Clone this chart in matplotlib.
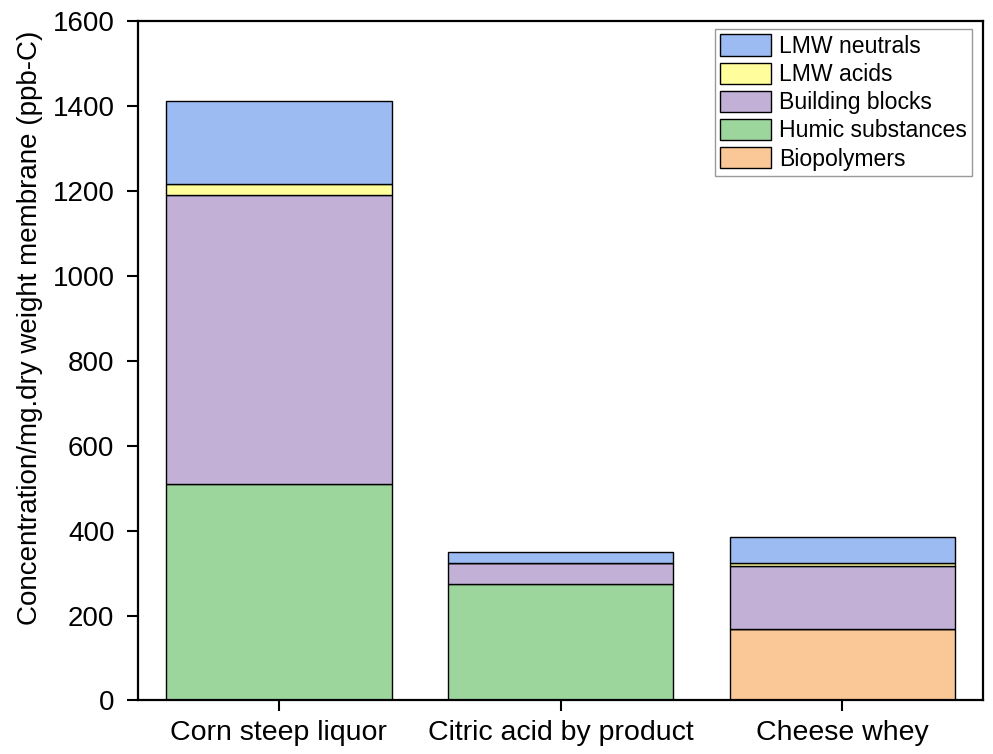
import matplotlib
matplotlib.use("Agg")
import matplotlib.pyplot as plt
import numpy as np

categories = ["Corn steep liquor", "Citric acid by product", "Cheese whey"]
biopolymers = [0, 0, 169]
humic = [509, 274, 0]
building_blocks = [682, 50, 147]
lmw_acids = [26, 0, 8]
lmw_neutrals = [195, 25, 62]

series = [
    ("Biopolymers", biopolymers, "#fac896"),
    ("Humic substances", humic, "#9dd69d"),
    ("Building blocks", building_blocks, "#c2b0d6"),
    ("LMW acids", lmw_acids, "#fffd9c"),
    ("LMW neutrals", lmw_neutrals, "#9bbbf2"),
]

plt.rcParams['font.family'] = ['Liberation Sans', 'DejaVu Sans']
fig = plt.figure(figsize=(9.93, 7.54), dpi=100)
ax = fig.add_axes([0.139, 0.071, 0.851, 0.901])

x = np.arange(len(categories))
bottom = np.zeros(len(categories))
handles = {}
for name, vals, col in series:
    vals = np.array(vals, dtype=float)
    b = ax.bar(x, vals, width=0.8, bottom=bottom, color=col, edgecolor="black", linewidth=1.0, label=name)
    handles[name] = b
    bottom += vals

ax.set_xlim(-0.5, 2.5)
ax.set_ylim(0, 1600)
ax.set_yticks(np.arange(0, 1601, 200))
ax.set_xticks(x)
ax.set_xticklabels(categories)
ax.tick_params(axis='both', direction='out', length=8, width=1.5)
ax.tick_params(axis='y', labelsize=20, pad=9)
ax.tick_params(axis='x', labelsize=20.5, pad=6)
for s in ax.spines.values():
    s.set_linewidth(1.6)
ax.set_ylabel("Concentration/mg.dry weight membrane (ppb-C)", fontsize=20)
ax.yaxis.set_label_coords(-0.112, 0.549)

order = ["LMW neutrals", "LMW acids", "Building blocks", "Humic substances", "Biopolymers"]
leg = ax.legend([handles[n] for n in order], order, loc="upper right", bbox_to_anchor=(0.987, 0.988),
                fontsize=16.6, frameon=True, fancybox=False, edgecolor="#808080",
                handlelength=2.2, handleheight=1.05, labelspacing=0.2, handletextpad=0.35,
                borderpad=0.22, borderaxespad=0.0)
leg.get_frame().set_linewidth(1.0)

fig.savefig("out.png", dpi=100)
